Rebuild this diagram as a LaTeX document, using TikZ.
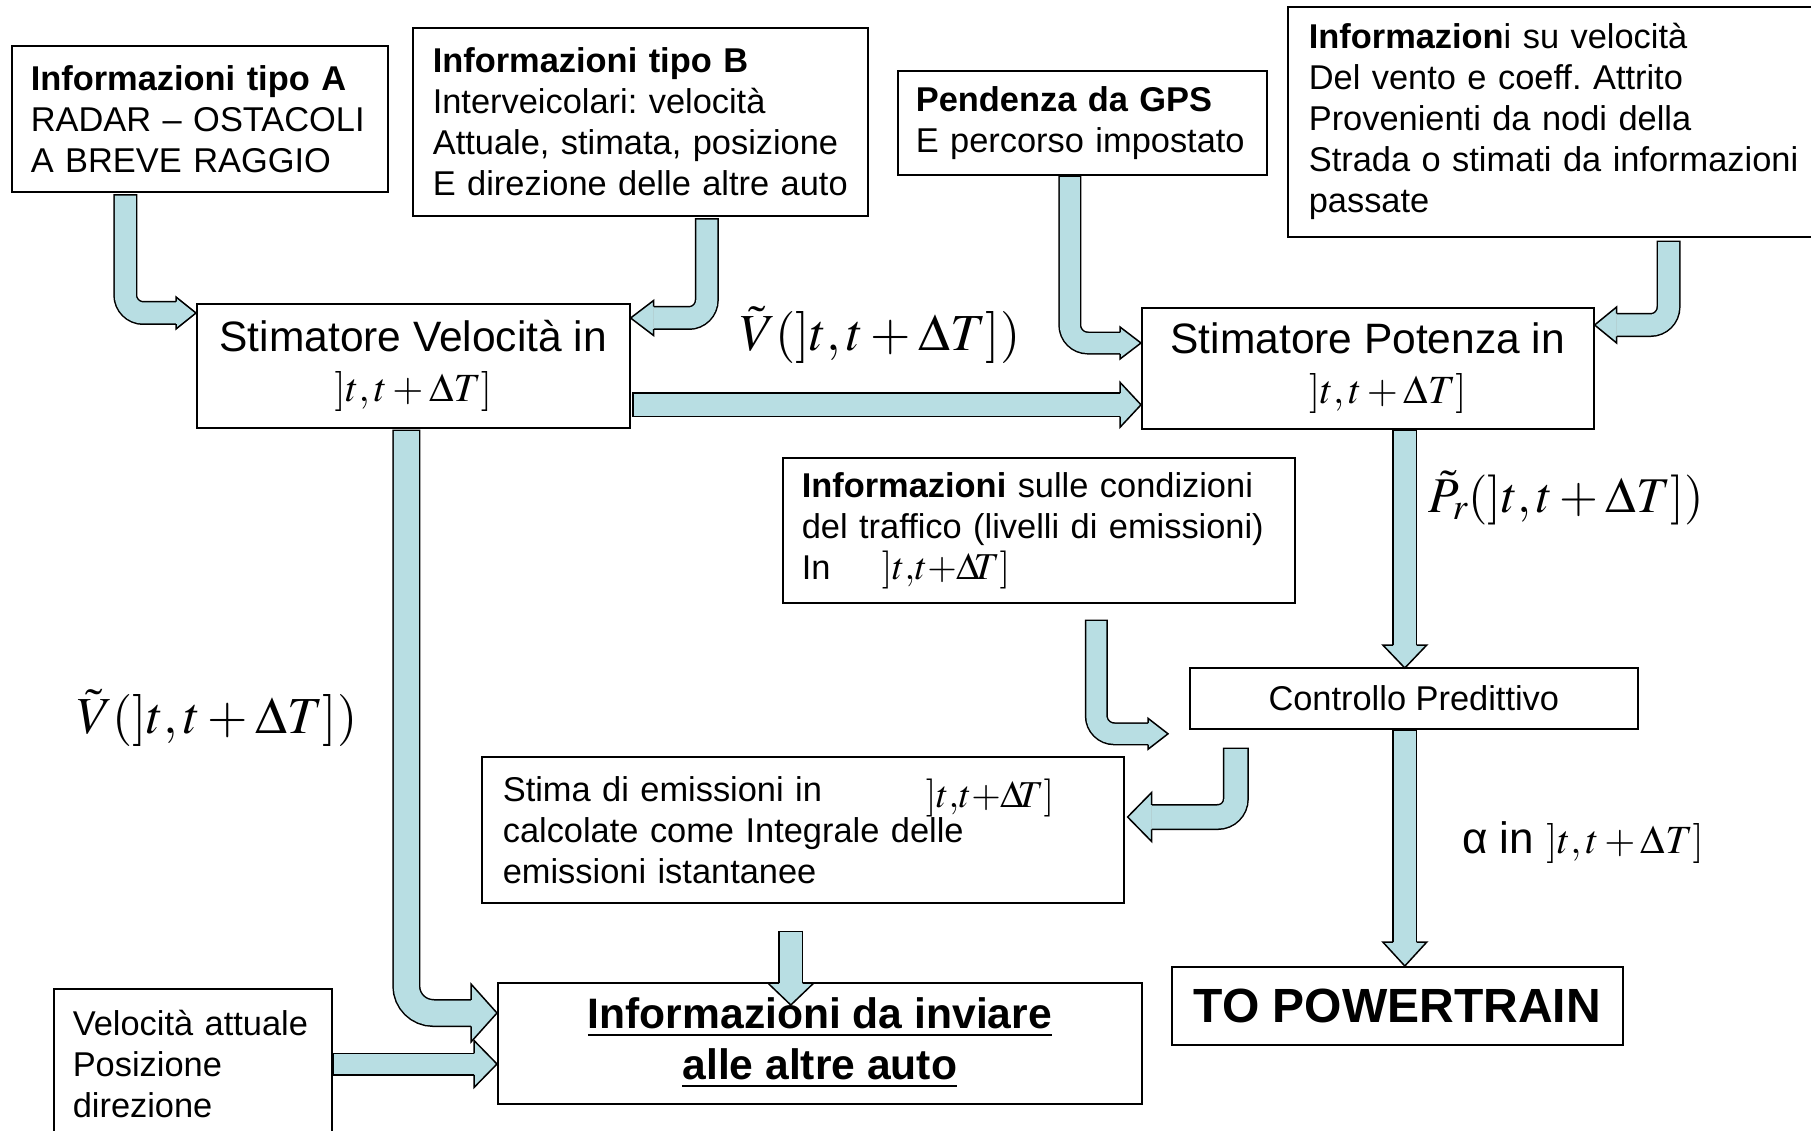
\documentclass[tikz,border=0pt]{standalone}
\usepackage{mathptmx}
\usepackage[no-math]{fontspec}
\setmainfont{Liberation Sans}
\frenchspacing
\definecolor{frecciablu}{RGB}{184,222,227}
\newcommand{\fnt}[2]{\fontsize{#1}{#2}\selectfont}
\newcommand{\intv}{]t,t+\Delta T]}
\newcommand{\intvc}{]t{,}t{+}\Delta\mkern-3mu T]}
% asta della freccia a blocco: [raggio]{larghezza}{percorso}
\newcommand{\asta}[3][18pt]{%
  \draw[line width=#2pt+3pt, rounded corners=#1] #3;
  \draw[line width=#2pt, draw=frecciablu, rounded corners=#1, shorten <=1.5pt] #3;}
% punta: {punta}{angolo}{mezza asta}{mezza punta}{lunghezza}
\newcommand{\punta}[5]{%
  \filldraw[fill=frecciablu, line width=1.5pt, line join=miter, shift={(#1)}, rotate=#2]
    (-#5pt,#3pt+0.75pt) -- (-#5pt,#4pt) -- (0pt,0pt) -- (-#5pt,-#4pt) -- (-#5pt,-#3pt-0.75pt);}
\begin{document}
\begin{tikzpicture}[x=1pt, y=-1pt,
    scatola/.style={draw, line width=1.6pt, anchor=north west, inner ysep=0pt},
    testo/.style={scatola, align=left, font=\fnt{34.4}{41}},
    titolo/.style={scatola, align=center, inner xsep=5pt}]
  \path[use as bounding box, fill=white] (0,0) rectangle (1811,1131);

  % blocchi di ingresso
  \node[testo, minimum width=376pt, minimum height=146pt, inner xsep=19pt, text width=338pt] (infoA) at (11,45)
    {\textbf{Informazioni tipo A}\\RADAR – OSTACOLI\\A BREVE RAGGIO};
  \node[testo, minimum width=455pt, minimum height=188pt, inner xsep=20pt, text width=415pt] (infoB) at (412,27)
    {\textbf{Informazioni tipo B}\\Interveicolari: velocità\\Attuale, stimata, posizione\\E direzione delle altre auto};
  \node[testo, minimum width=369pt, minimum height=104pt, inner xsep=18pt, text width=333pt] (gps) at (897,70)
    {\textbf{Pendenza da GPS}\\E percorso impostato};
  \node[testo, minimum width=543pt, minimum height=230pt, inner xsep=21pt, text width=501pt] (vento) at (1287,6)
    {\textbf{Informazion}i su velocità\\Del vento e coeff. Attrito\\Provenienti da nodi della\\Strada o stimati da informazioni\\passate};

  % stimatori
  \node[titolo, minimum width=433pt, minimum height=124pt, font=\fnt{42.5}{50}] (stimV) at (196,303)
    {Stimatore Velocità in\\{\fnt{40}{50}$\intv$}};
  \node[titolo, minimum width=452pt, minimum height=121pt, font=\fnt{42.5}{50}] (stimP) at (1141,307)
    {Stimatore Potenza in\\\hspace*{40pt}{\fnt{40}{50}$\intv$}};

  \node[testo, minimum width=512pt, minimum height=145pt, inner xsep=19pt, text width=474pt] (traffico) at (782,457)
    {\textbf{Informazioni} sulle condizioni\\del traffico (livelli di emissioni)\\\makebox[80pt][l]{In}{\fnt{38}{41}$\intvc$}};
  \node[titolo, minimum width=448pt, minimum height=61pt, font=\fnt{34.4}{41}] (controllo) at (1189,667)
    {Controllo Predittivo};
  \node[testo, minimum width=642pt, minimum height=146pt, inner xsep=21pt, text width=600pt] (stima) at (481,756)
    {\makebox[423pt][l]{Stima di emissioni in}\raisebox{-6pt}{\fnt{38}{41}$\intvc$}\\calcolate come Integrale delle\\emissioni istantanee};

  % uscite
  \node[titolo, minimum width=644pt, minimum height=121pt, font=\bfseries\fnt{42.6}{51}] (inviare) at (497,982)
    {\underline{Informazioni da inviare}\\\underline{alle altre auto}};
  \node[testo, minimum width=278pt, minimum height=150pt, inner xsep=19pt, text width=240pt] (velatt) at (53,988)
    {Velocità attuale\\Posizione\\direzione};
  \node[titolo, minimum width=451pt, minimum height=78pt, font=\bfseries\fnt{48}{55}] (TOpt) at (1171,966)
    {TO POWERTRAIN};

  % etichette
  \node[font=\fnt{52}{60}] (lblV) at (880,335) {$\tilde V(\intv)$};
  \node[font=\fnt{52}{60}] (lblVb) at (217,718) {$\tilde V(\intv)$};
  \node[font=\fnt{50}{60}] (lblP) at (1566,498) {$\tilde P_r(\intv)$};
  \node (lblA) at (1583,843) {\fnt{44}{50}α in \fnt{40}{50}$\intv$};

  % frecce a blocco
  \coordinate (tA) at ([yshift=-10pt]stimV.north west);
  \asta{21}{([xshift=-74.5pt,yshift=-1.5pt]infoA.south) |- ([xshift=-20pt]tA)}
  \punta{tA}{0}{10.5}{16}{20}

  \coordinate (tB) at ([yshift=-15pt]stimV.north east);
  \asta{21}{([xshift=66.5pt,yshift=-1.5pt]infoB.south) |- ([xshift=23pt]tB)}
  \punta{tB}{180}{10.5}{17.5}{23}

  \coordinate (tVP) at ([yshift=-36.5pt]stimP.west);
  \coordinate (sVP) at (stimV.east |- tVP);
  \asta{22}{([xshift=1.5pt]sVP) -- ([xshift=-21pt]tVP)}
  \punta{tVP}{0}{11}{22.5}{21}

  \coordinate (tG) at ([yshift=-36pt]stimP.north west);
  \asta{20}{([xshift=-12.5pt]gps.south) |- ([xshift=-21pt]tG)}
  \punta{tG}{0}{10}{16}{21}

  \coordinate (tW) at ([yshift=-18pt]stimP.north east);
  \asta{21}{([xshift=381.5pt,yshift=-3pt]vento.south west) |- ([xshift=22pt]tW)}
  \punta{tW}{180}{10.5}{18}{22}

  \coordinate (tI1) at ([yshift=-31pt]inviare.north west);
  \asta[27pt]{25}{([xshift=-7pt,yshift=-1pt]stimV.south) |- ([xshift=-26pt]tI1)}
  \punta{tI1}{0}{12.5}{29}{26}

  \coordinate (tI2) at ([yshift=-82pt]inviare.north west);
  \asta{20}{([yshift=-76pt]velatt.north east) -- ([xshift=-23pt]tI2)}
  \punta{tI2}{0}{10}{23.5}{23}

  \coordinate (tI3) at ([xshift=-29pt,yshift=-23pt]inviare.north);
  \asta{22}{([xshift=-12pt,yshift=-27pt]stima.south) -- ([yshift=22pt]tI3)}
  \punta{tI3}{-90}{11}{23}{22}

  \coordinate (tC1) at ([xshift=-9pt,yshift=-1pt]controllo.north);
  \asta{22}{([xshift=37pt]stimP.south) -- ([yshift=23pt]tC1)}
  \punta{tC1}{-90}{11}{22}{23}

  \coordinate (tC2) at ([xshift=-21pt,yshift=-35.5pt]controllo.west);
  \asta{20}{([xshift=57.5pt,yshift=-16pt]traffico.south) |- ([xshift=-20pt]tC2)}
  \punta{tC2}{0}{10}{15.5}{20}

  \coordinate (tS) at ([xshift=3pt,yshift=-61pt]stima.north east);
  \asta{23}{([xshift=-178pt,yshift=-18pt]controllo.south) |- ([xshift=24pt]tS)}
  \punta{tS}{180}{11.5}{24.5}{24}

  \coordinate (tT) at ([xshift=7.5pt]TOpt.north);
  \asta{22}{([xshift=-9pt]controllo.south) -- ([yshift=24pt]tT)}
  \punta{tT}{-90}{11}{22}{24}
\end{tikzpicture}
\end{document}
